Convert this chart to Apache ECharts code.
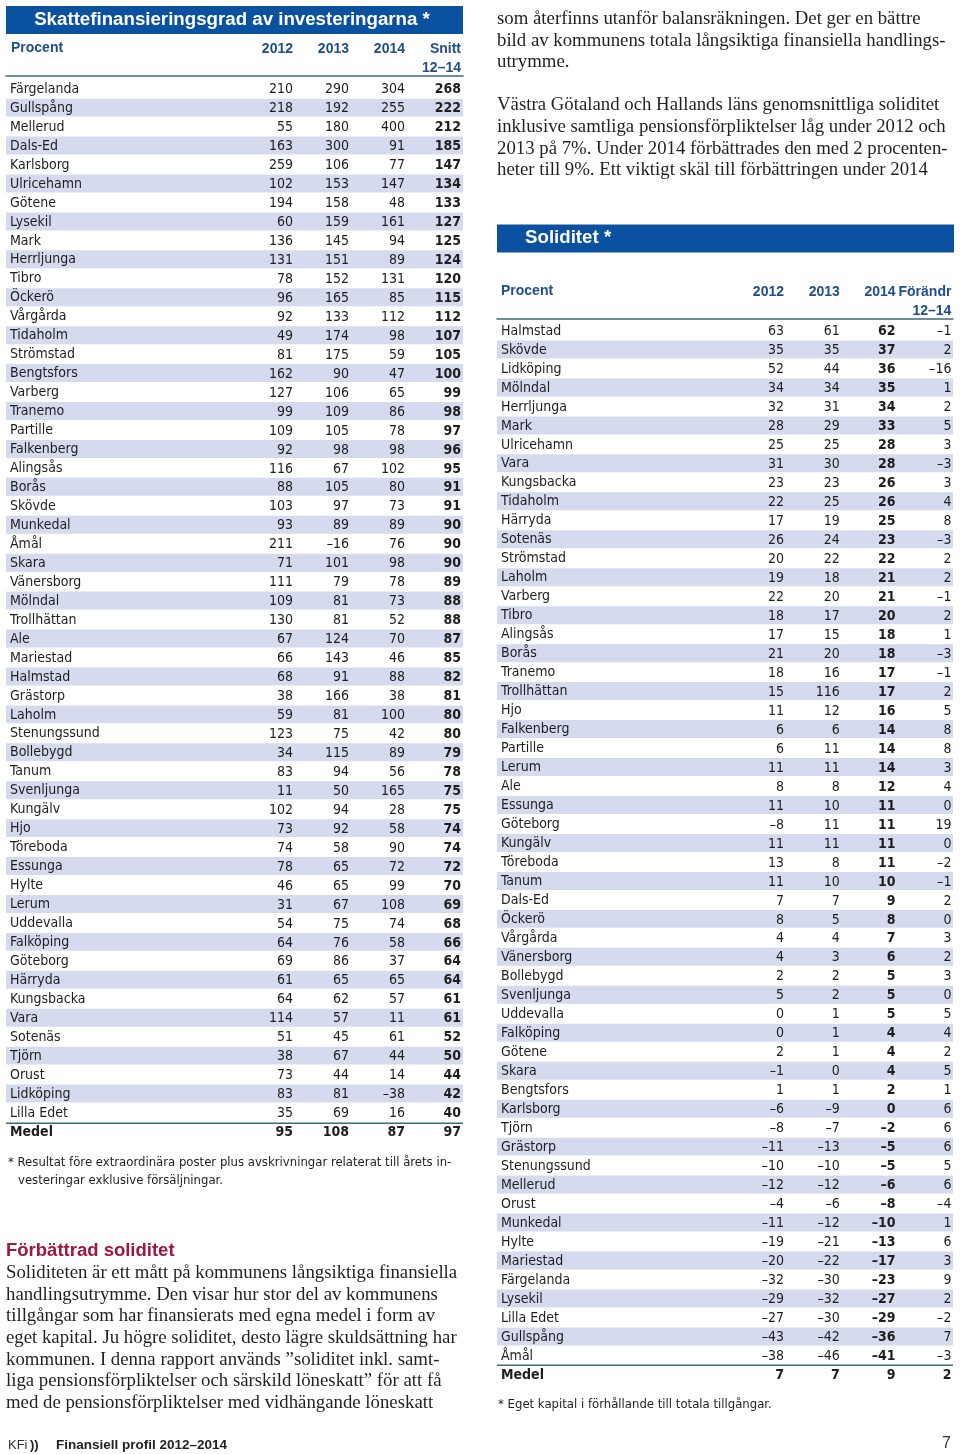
<!DOCTYPE html>
<html><head><meta charset="utf-8">
<script src="https://cdn.jsdelivr.net/npm/echarts@6/dist/echarts.min.js"></script>
<style>html,body{margin:0;padding:0;background:#fff}#c{width:960px;height:1454px}</style>
</head><body><div id="c"></div>
<script>
// ---------- DATA: Skattefinansieringsgrad av investeringarna ----------
const skattTitle = 'Skattefinansieringsgrad av investeringarna *';
const skattRows = ['Färgelanda','Gullspång','Mellerud','Dals-Ed','Karlsborg','Ulricehamn','Götene','Lysekil','Mark','Herrljunga','Tibro','Öckerö','Vårgårda','Tidaholm','Strömstad','Bengtsfors','Varberg','Tranemo','Partille','Falkenberg','Alingsås','Borås','Skövde','Munkedal','Åmål','Skara','Vänersborg','Mölndal','Trollhättan','Ale','Mariestad','Halmstad','Grästorp','Laholm','Stenungssund','Bollebygd','Tanum','Svenljunga','Kungälv','Hjo','Töreboda','Essunga','Hylte','Lerum','Uddevalla','Falköping','Göteborg','Härryda','Kungsbacka','Vara','Sotenäs','Tjörn','Orust','Lidköping','Lilla Edet'];
const skatt2012 = [210,218,55,163,259,102,194,60,136,131,78,96,92,49,81,162,127,99,109,92,116,88,103,93,211,71,111,109,130,67,66,68,38,59,123,34,83,11,102,73,74,78,46,31,54,64,69,61,64,114,51,38,73,83,35];
const skatt2013 = [290,192,180,300,106,153,158,159,145,151,152,165,133,174,175,90,106,109,105,98,67,105,97,89,-16,101,79,81,81,124,143,91,166,81,75,115,94,50,94,92,58,65,65,67,75,76,86,65,62,57,45,67,44,81,69];
const skatt2014 = [304,255,400,91,77,147,48,161,94,89,131,85,112,98,59,47,65,86,78,98,102,80,73,89,76,98,78,73,52,70,46,88,38,100,42,89,56,165,28,58,90,72,99,108,74,58,37,65,57,11,61,44,14,-38,16];
const skattSnitt = [268,222,212,185,147,134,133,127,125,124,120,115,112,107,105,100,99,98,97,96,95,91,91,90,90,90,89,88,88,87,85,82,81,80,80,79,78,75,75,74,74,72,70,69,68,66,64,64,61,61,52,50,44,42,40];
const skattMedel = [95,108,87,97];
const skattHeaders = ['2012','2013','2014','Snitt\n12–14'];
const skattFootnote = ['* Resultat före extraordinära poster plus avskrivningar relaterat till årets in-', 'vesteringar exklusive försäljningar.'];

// ---------- DATA: Soliditet ----------
const solTitle = 'Soliditet *';
const solRows = ['Halmstad','Skövde','Lidköping','Mölndal','Herrljunga','Mark','Ulricehamn','Vara','Kungsbacka','Tidaholm','Härryda','Sotenäs','Strömstad','Laholm','Varberg','Tibro','Alingsås','Borås','Tranemo','Trollhättan','Hjo','Falkenberg','Partille','Lerum','Ale','Essunga','Göteborg','Kungälv','Töreboda','Tanum','Dals-Ed','Öckerö','Vårgårda','Vänersborg','Bollebygd','Svenljunga','Uddevalla','Falköping','Götene','Skara','Bengtsfors','Karlsborg','Tjörn','Grästorp','Stenungssund','Mellerud','Orust','Munkedal','Hylte','Mariestad','Färgelanda','Lysekil','Lilla Edet','Gullspång','Åmål'];
const sol2012 = [63,35,52,34,32,28,25,31,23,22,17,26,20,19,22,18,17,21,18,15,11,6,6,11,8,11,-8,11,13,11,7,8,4,4,2,5,0,0,2,-1,1,-6,-8,-11,-10,-12,-4,-11,-19,-20,-32,-29,-27,-43,-38];
const sol2013 = [61,35,44,34,31,29,25,30,23,25,19,24,22,18,20,17,15,20,16,116,12,6,11,11,8,10,11,11,8,10,7,5,4,3,2,2,1,1,1,0,1,-9,-7,-13,-10,-12,-6,-12,-21,-22,-30,-32,-30,-42,-46];
const sol2014 = [62,37,36,35,34,33,28,28,26,26,25,23,22,21,21,20,18,18,17,17,16,14,14,14,12,11,11,11,11,10,9,8,7,6,5,5,5,4,4,4,2,0,-2,-5,-5,-6,-8,-10,-13,-17,-23,-27,-29,-36,-41];
const solChange = [-1,2,-16,1,2,5,3,-3,3,4,8,-3,2,2,-1,2,1,-3,-1,2,5,8,8,3,4,0,19,0,-2,-1,2,0,3,2,3,0,5,4,2,5,1,6,6,6,5,6,-4,1,6,3,9,2,-2,7,-3];
const solMedel = [7,7,9,2];
const solHeaders = ['2012','2013','2014','Förändr\n12–14'];
const solFootnote = ['* Eget kapital i förhållande till totala tillgångar.'];

// ---------- TEXT ----------
const rightTextA = ['som återfinns utanför balansräkningen. Det ger en bättre','bild av kommunens totala långsiktiga finansiella handlings-','utrymme.'];
const rightTextB = ['Västra Götaland och Hallands läns genomsnittliga soliditet','inklusive samtliga pensionsförpliktelser låg under 2012 och','2013 på 7%. Under 2014 förbättrades den med 2 procenten-','heter till 9%. Ett viktigt skäl till förbättringen under 2014'];
const leftHeading = 'Förbättrad soliditet';
const leftText = ['Soliditeten är ett mått på kommunens långsiktiga finansiella','handlingsutrymme. Den visar hur stor del av kommunens','tillgångar som har finansierats med egna medel i form av','eget kapital. Ju högre soliditet, desto lägre skuldsättning har','kommunen. I denna rapport används ”soliditet inkl. samt-','liga pensionsförpliktelser och särskild löneskatt” för att få','med de pensionsförpliktelser med vidhängande löneskatt'];
const footerParts = ['KFi', '))', 'Finansiell profil 2012–2014'];
const pageNumber = '7';
const procentLabel = 'Procent';
const medelLabel = 'Medel';

// ---------- STYLE ----------
function hasFont(name){
  const c = document.createElement('canvas').getContext('2d');
  const s = 'abcdefghijklmnopqrstuvwxyzÅÄÖ0123456789';
  c.font = '40px monospace'; const a = c.measureText(s).width;
  c.font = '40px "' + name + '", monospace'; const b = c.measureText(s).width;
  return Math.abs(a - b) > 0.5;
}
let TF, TS, FS;
if (hasFont('Liberation Sans Narrow')) { TF = '"Liberation Sans Narrow"'; TS = 16; FS = 15; }
else if (hasFont('DejaVu Sans Condensed')) { TF = '"DejaVu Sans Condensed"'; TS = 14; FS = 13; }
else { TF = '"Liberation Sans", Arial'; TS = 13.5; FS = 13; }
const SANS = '"Liberation Sans", Arial, sans-serif';
const HF = '"Liberation Sans", Arial';
const HS = 14;
const SERIF = '"Liberation Serif", "DejaVu Serif", serif';
const BLUE = '#0a52a0';
const HEAD = '#1f4e8c';
const SHADE = '#d5daee';
const RULE = '#3e6b7c';
const INK = '#1e1e1e';
const RED = '#a0173e';

function fmt(v){ return v < 0 ? '\u2013' + Math.abs(v) : String(v); }

const tables = [
  { left: 6, top: 79.7, width: 457, rowH: 18.96, colRight0: 293, pitch: 56, lineOffset: 4,
    rows: skattRows, cols: [skatt2012, skatt2013, skatt2014, skattSnitt], medel: skattMedel,
    headers: skattHeaders, boldCol: 3 },
  { left: 497, top: 321.5, width: 456, rowH: 18.98, colRight0: 784, pitch: 55.8, lineOffset: 3,
    rows: solRows, cols: [sol2012, sol2013, sol2014, solChange], medel: solMedel,
    headers: solHeaders, boldCol: 2 }
];
const HALF = 26;

const grids = [], xAxes = [], yAxes = [], series = [];
tables.forEach((t, i) => {
  const cats = t.rows.concat([medelLabel]);
  const n = cats.length;
  grids.push({ left: t.left, top: t.top, width: t.width, height: t.rowH * n, containLabel: false });
  const c1 = t.colRight0 - HALF;
  const min = 1 - (c1 - t.left) / t.pitch;
  const max = min + t.width / t.pitch;
  xAxes.push({
    gridIndex: i, type: 'value', position: 'top', min: min, max: max, offset: t.lineOffset, z: 10,
    axisLine: { show: true, onZero: false, lineStyle: { color: RULE, width: 1.5 } },
    axisTick: { show: false }, splitLine: { show: false },
    axisLabel: {
      show: true, customValues: [1, 2, 3, 4], margin: -2, hideOverlap: false,
      formatter: (v) => {
        const h = t.headers[Math.round(v) - 1] || '';
        const lines = h.split('\n');
        if (lines.length < 2) lines.push(' ');
        return lines.map(l => '{h|' + l + '}').join('\n');
      },
      rich: { h: { width: HALF * 2, align: 'right', fontFamily: HF, fontSize: HS, fontWeight: 'bold', color: HEAD, lineHeight: 19 } }
    }
  });
  yAxes.push({
    gridIndex: i, type: 'category', inverse: true, data: cats, z: 10,
    axisLine: { show: false, onZero: false }, axisTick: { show: false }, splitLine: { show: false },
    axisLabel: {
      inside: true, margin: 4, align: 'left', interval: 0, fontFamily: TF, fontSize: TS, color: INK,
      formatter: (v) => v === medelLabel ? '{m|' + v + '}' : v,
      rich: { m: { fontFamily: TF, fontSize: TS, fontWeight: 'bold', color: INK } }
    }
  });
  // row shading
  const shadeData = [];
  for (let r = 1; r < t.rows.length; r += 2) shadeData.push([0, r]);
  series.push({
    type: 'custom', xAxisIndex: i, yAxisIndex: i, silent: true, z: 1, data: shadeData,
    renderItem: (params, api) => {
      const cs = params.coordSys;
      const p = api.coord([0, api.value(1)]);
      const h = api.size([0, 1])[1];
      return { type: 'rect', shape: { x: cs.x, y: p[1] - h / 2, width: cs.width, height: h - 1 }, style: { fill: SHADE } };
    }
  });
  // rule above Medel
  series.push({
    type: 'custom', xAxisIndex: i, yAxisIndex: i, silent: true, z: 3, data: [[0, t.rows.length]],
    renderItem: (params, api) => {
      const cs = params.coordSys;
      const p = api.coord([0, api.value(1)]);
      const h = api.size([0, 1])[1];
      const y = Math.round(p[1] - h / 2) + 0.25;
      return { type: 'line', shape: { x1: cs.x, y1: y, x2: cs.x + cs.width, y2: y }, style: { stroke: RULE, lineWidth: 1.5 } };
    }
  });
  // cells
  const cells = [];
  t.cols.forEach((col, c) => {
    col.forEach((v, r) => cells.push([c + 1, r, v, c === t.boldCol ? 1 : 0]));
    cells.push([c + 1, t.rows.length, t.medel[c], 1]);
  });
  series.push({
    type: 'custom', xAxisIndex: i, yAxisIndex: i, silent: true, z: 4, data: cells,
    renderItem: (params, api) => {
      const p = api.coord([api.value(0), api.value(1)]);
      const bold = api.value(3) === 1;
      return { type: 'text', x: p[0] + HALF, y: p[1] + 0.5,
        style: { text: fmt(api.value(2)), align: 'right', verticalAlign: 'middle', textAlign: 'right', textVerticalAlign: 'middle',
          fontFamily: TF, fontSize: TS, fontWeight: bold ? 'bold' : 'normal', fill: INK } };
    }
  });
});

// ---------- GRAPHIC TEXT ----------
function txt(x, y, text, font, fill, align) {
  return { type: 'text', x: x, y: y, silent: true,
    style: { text: text, font: font, fill: fill, align: align || 'left', verticalAlign: 'middle', textAlign: align || 'left', textVerticalAlign: 'middle' } };
}
const g = [];
g.push({ type: 'rect', shape: { x: 6, y: 6, width: 457, height: 28 }, style: { fill: BLUE }, silent: true });
g.push(txt(232, 20, skattTitle, 'bold 18.7px ' + SANS, '#ffffff', 'center'));
g.push({ type: 'rect', shape: { x: 497, y: 224.5, width: 457, height: 28 }, style: { fill: BLUE }, silent: true });
g.push(txt(525, 238, solTitle, 'bold 18.7px ' + SANS, '#ffffff'));
g.push(txt(11, 48, procentLabel, 'bold ' + HS + 'px ' + HF, HEAD));
g.push(txt(501, 291, procentLabel, 'bold ' + HS + 'px ' + HF, HEAD));
g.push(txt(8, 1163, skattFootnote[0], FS + 'px ' + TF, INK));
g.push(txt(18, 1181, skattFootnote[1], FS + 'px ' + TF, INK));
g.push(txt(498, 1405, solFootnote[0], FS + 'px ' + TF, INK));
const serifFont = '18.8px ' + SERIF;
rightTextA.forEach((l, k) => g.push(txt(497, 19 + k * 21.6, l, serifFont, '#231f20')));
rightTextB.forEach((l, k) => g.push(txt(497, 105.5 + k * 21.6, l, serifFont, '#231f20')));
g.push(txt(6, 1251, leftHeading, 'bold 18.5px ' + SANS, RED));
leftText.forEach((l, k) => g.push(txt(6, 1273 + k * 21.67, l, serifFont, '#231f20')));
g.push(txt(8, 1445, footerParts[0], '13px ' + SANS, '#333'));
g.push(txt(30, 1445, footerParts[1], 'bold 13px ' + SANS, '#222'));
g.push(txt(56, 1445, footerParts[2], 'bold 13.5px ' + SANS, '#222'));
g.push(txt(951, 1444, pageNumber, '16px ' + SANS, '#333', 'right'));

const chart = echarts.init(document.getElementById('c'), null, { renderer: 'canvas' });
chart.setOption({
  animation: false,
  backgroundColor: '#ffffff',
  grid: grids, xAxis: xAxes, yAxis: yAxes, series: series,
  graphic: { elements: g }
});
</script>
</body></html>
